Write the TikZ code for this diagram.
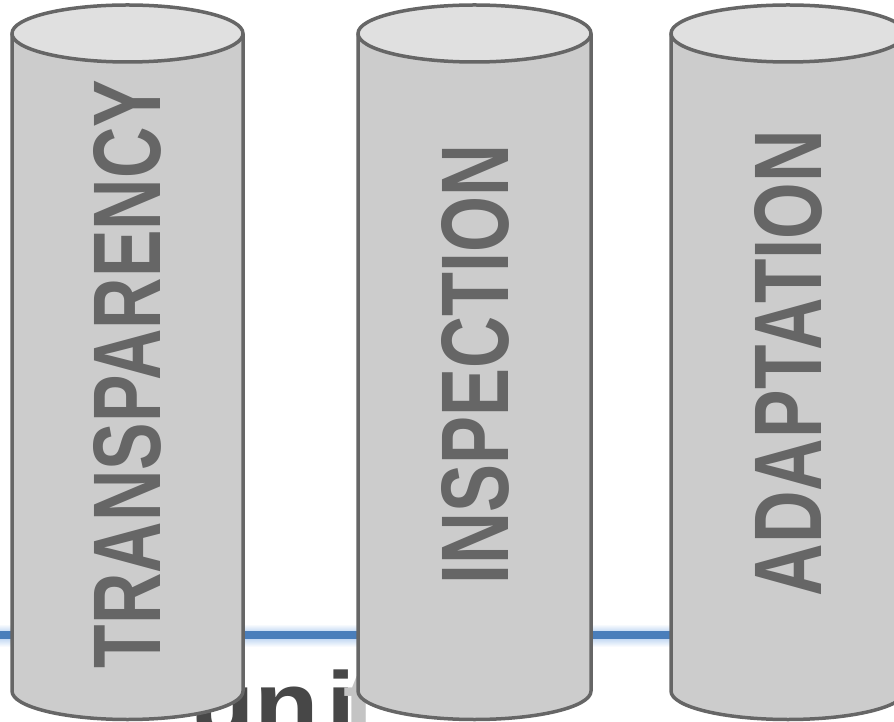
\documentclass[tikz,border=0pt]{standalone}
\usepackage{fontspec}
\setmainfont{Liberation Sans}
\usetikzlibrary{calc}

\definecolor{pillarside}{HTML}{CCCCCC}
\definecolor{pillartop}{HTML}{E0E0E0}
\definecolor{pillarline}{HTML}{666666}
\definecolor{pillartext}{HTML}{666666}
\definecolor{rulecore}{HTML}{4A7EBB}
\definecolor{ruleglow}{HTML}{A9C8EE}
\definecolor{bannertext}{HTML}{474747}
\definecolor{bannerfade}{HTML}{C4C4C4}

\tikzset{
  pillarlabel/.style={rotate=90, inner sep=0pt, text=pillartext,
    font=\bfseries\fontsize{96}{96}\selectfont},
  bannerlabel/.style={anchor=base west, inner sep=0pt, text=bannertext,
    font=\bfseries\fontsize{92}{92}\selectfont},
  pillaredge/.style={draw=pillarline, line width=3.5pt, line join=round}
}

\begin{document}
\begin{tikzpicture}[x=1pt, y=1pt]
  \useasboundingbox (0,0) rectangle (894,721);
  \clip (0,0) rectangle (894,721);

  % horizontal rule with a soft glow behind the pillars
  \shade[top color=white, bottom color=ruleglow] (0,86) rectangle (894,97);
  \shade[top color=ruleglow, bottom color=white] (0,74) rectangle (894,86);
  \coordinate (ruleL) at (0,86);
  \coordinate (ruleR) at (894,86);
  \draw[rulecore, line width=8pt] (ruleL) -- (ruleR);

  % banner word, partly hidden behind the pillars
  \node[bannerlabel] (uni) at (190,-15)
    {\scalebox{1.15}[1]{un\kern6.3pt i}};
  \node[bannerlabel, text=bannerfade] (unit) at (343,-15)
    {\scalebox{1.15}[1]{t}};

  % three pillars: centre x / half width
  \foreach \cx/\rx in {127.5/115.5, 474.5/116.5, 788/117}{
    \fill[pillarside] (\cx-\rx,687.5) -- (\cx-\rx,30)
      arc[start angle=180, end angle=360, x radius=\rx pt, y radius=28.5pt]
      -- (\cx+\rx,687.5) -- cycle;
    \fill[pillartop] (\cx,687.5) ellipse[x radius=\rx pt, y radius=28.5pt];
    \draw[pillaredge] (\cx-\rx,687.5) -- (\cx-\rx,30)
      arc[start angle=180, end angle=360, x radius=\rx pt, y radius=28.5pt]
      -- (\cx+\rx,687.5);
    \draw[pillaredge] (\cx,687.5) ellipse[x radius=\rx pt, y radius=28.5pt];
  }

  \node[pillarlabel] (transparency) at (127.5,347)
    {\scalebox{0.742}[1]{TRANSPARENCY}};
  \node[pillarlabel] (inspection) at (475,356.5)
    {\scalebox{0.75}[1]{INSPECTION}};
  \node[pillarlabel] (adaptation) at (788,358)
    {\scalebox{0.758}[1]{ADAPTATION}};
\end{tikzpicture}
\end{document}
